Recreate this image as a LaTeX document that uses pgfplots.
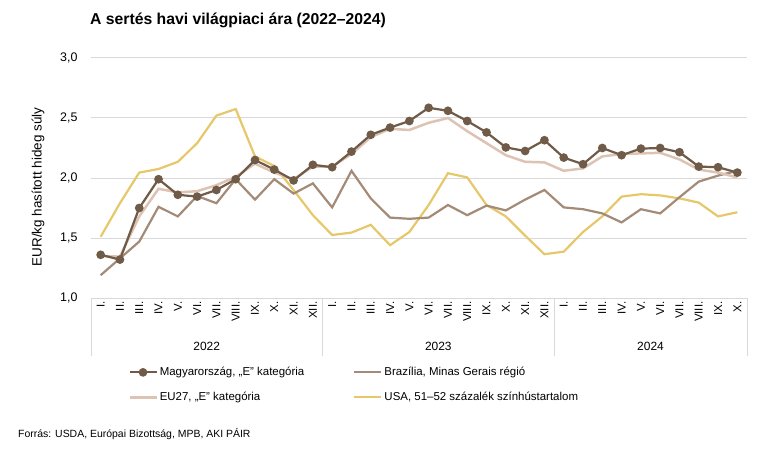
\documentclass[border=0pt]{standalone}
\usepackage{fontspec}
\setmainfont{Liberation Sans}
\usepackage{pgfplots}
\usepackage{pgfplotstable}
\pgfplotsset{compat=1.18}
\definecolor{hun}{HTML}{6F5B48}
\definecolor{bra}{HTML}{A38B78}
\definecolor{eu}{HTML}{DDC3B3}
\definecolor{usa}{HTML}{E6C86A}
\definecolor{gridc}{HTML}{D9D9D9}
\pgfplotsset{
  markleg/.style={legend image code/.code={\draw[##1, mark repeat=2, mark phase=2] plot coordinates {(0bp,0bp) (13.5bp,0bp) (27bp,0bp)};}},
  lineleg/.style={legend image code/.code={\draw[##1] (0bp,0bp) -- (27bp,0bp);}},
}
\pgfplotstableread{
i hun bra eu usa
0 1.36 1.19 1.35 1.51
1 1.32 1.33 1.345 1.79
2 1.75 1.47 1.68 2.045
3 1.99 1.76 1.91 2.075
4 1.86 1.68 1.88 2.135
5 1.845 1.85 1.89 2.29
6 1.90 1.79 1.94 2.52
7 1.99 1.99 2.01 2.575
8 2.15 1.82 2.12 2.18
9 2.07 1.99 2.045 2.10
10 1.98 1.87 1.99 1.90
11 2.11 1.955 2.095 1.69
12 2.09 1.755 2.095 1.525
13 2.22 2.06 2.20 1.545
14 2.36 1.83 2.34 1.61
15 2.42 1.67 2.41 1.44
16 2.475 1.66 2.40 1.55
17 2.585 1.67 2.46 1.775
18 2.56 1.775 2.50 2.04
19 2.475 1.69 2.39 2.005
20 2.38 1.77 2.29 1.775
21 2.255 1.73 2.19 1.68
22 2.225 1.82 2.135 1.52
23 2.315 1.90 2.13 1.365
24 2.17 1.755 2.06 1.386
25 2.115 1.74 2.08 1.55
26 2.25 1.705 2.18 1.68
27 2.19 1.63 2.20 1.845
28 2.245 1.74 2.205 1.865
29 2.25 1.705 2.21 1.855
30 2.215 1.84 2.155 1.83
31 2.095 1.97 2.07 1.795
32 2.09 2.02 2.045 1.68
33 2.045 2.06 2.005 1.715
}\datatable
\begin{document}
\begin{tikzpicture}[x=1bp,y=1bp]
\path[use as bounding box] (0,0) rectangle (775,-460);
\node[anchor=west, inner sep=0, font=\bfseries\fontsize{15.8}{18}\selectfont] at (90,-20) {A sertés havi világpiaci ára (2022–2024)};
\node[rotate=90, inner sep=0, font=\fontsize{13.5}{15}\selectfont] at (38,-187) {EUR/kg hasított hideg súly};
\begin{axis}[
  at={(91bp,-298bp)}, anchor=south west, scale only axis,
  width=656bp, height=240bp,
  xmin=-0.5, xmax=33.5, ymin=1, ymax=3,
  axis x line*=bottom, axis y line*=left,
  axis line style={draw=none},
  major tick length=0pt,
  ytick={1,1.5,2,2.5,3},
  ymajorgrids, grid style={gridc, line width=1bp},
  yticklabel style={font=\fontsize{12.5}{14}\selectfont, xshift=-10bp, /pgf/number format/.cd, fixed, fixed zerofill, precision=1, use comma},
  /pgf/number format/assume math mode=true,
  xtick={0,...,33},
  xticklabels={I.,II.,III.,IV.,V.,VI.,VII.,VIII.,IX.,X.,XI.,XII.,I.,II.,III.,IV.,V.,VI.,VII.,VIII.,IX.,X.,XI.,XII.,I.,II.,III.,IV.,V.,VI.,VII.,VIII.,IX.,X.},
  xticklabel style={rotate=90, anchor=east, font=\fontsize{11.5}{13}\selectfont},
  legend columns=2,
  legend cell align=left,
  legend style={at={(0.0565,-0.28)}, anchor=north west, draw=none, inner sep=0pt, fill=none,
    font=\fontsize{11.5}{14}\selectfont,
    /tikz/every even column/.append style={column sep=47bp},
    row sep=11bp},
  clip=false,
]
\addlegendimage{hun, line width=2.2bp, mark=*, mark size=3.2bp, markleg}
\addlegendentry{Magyarország, „E" kategória}
\addlegendimage{bra, line width=2.2bp, lineleg}
\addlegendentry{Brazília, Minas Gerais régió}
\addlegendimage{eu, line width=2.5bp, lineleg}
\addlegendentry{EU27, „E" kategória}
\addlegendimage{usa, line width=2.2bp, lineleg}
\addlegendentry{USA, 51–52 százalék színhústartalom}
\addplot[usa, line width=2.2bp, forget plot] table[x=i, y=usa] {\datatable};
\addplot[bra, line width=2.2bp, forget plot] table[x=i, y=bra] {\datatable};
\addplot[eu, line width=2.5bp, forget plot] table[x=i, y=eu] {\datatable};
\addplot[hun, line width=2.2bp, mark=*, mark size=3.2bp, forget plot] table[x=i, y=hun] {\datatable};
\end{axis}
\foreach \xx in {91,322.5,554.1,747} {\draw[gridc, line width=1bp] (\xx,-298) -- (\xx,-356);}
\node[font=\fontsize{12}{14}\selectfont] at (206.7,-346) {2022};
\node[font=\fontsize{12}{14}\selectfont] at (438.3,-346) {2023};
\node[font=\fontsize{12}{14}\selectfont] at (650.5,-346) {2024};
\node[anchor=west, inner sep=0, font=\fontsize{10.5}{12}\selectfont] at (18,-434) {Forrás: USDA, Európai Bizottság, MPB, AKI PÁIR};
\end{tikzpicture}
\end{document}
